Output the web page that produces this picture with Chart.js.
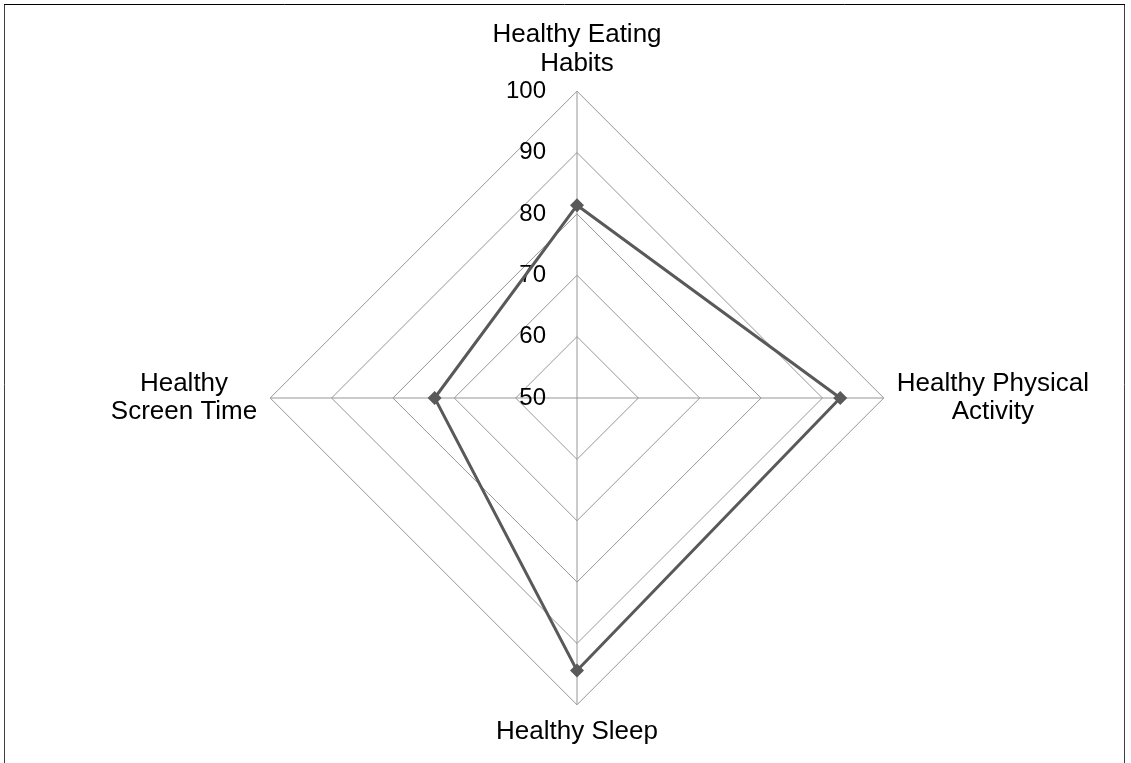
<!DOCTYPE html>
<html>
<head>
<meta charset="utf-8">
<script src="https://cdn.jsdelivr.net/npm/chart.js@4/dist/chart.umd.min.js"></script>
<style>
  html, body { margin: 0; padding: 0; background: #fff; }
  #wrap { width: 1131px; height: 763px; position: relative; }
</style>
</head>
<body>
<div id="wrap"><canvas id="c"></canvas></div>
<script>
const categories = [["Healthy Eating", "Habits"], ["Healthy Physical", "Activity"], "Healthy Sleep", ["Healthy", "Screen Time"]];
const seriesValues = [81.4, 92.9, 94.4, 73.2];
const tickValues = [50, 60, 70, 80, 90, 100];

const FONT = "'Liberation Sans', Arial, sans-serif";
const LABEL_SIZE = 26;
const LABEL_LH = 1.1;

const frame = {
  id: 'frame',
  afterDraw(chart) {
    const ctx = chart.ctx;
    ctx.save();
    ctx.lineWidth = 1;
    ctx.strokeStyle = '#404040';
    ctx.beginPath();
    ctx.moveTo(4.5, 4.5); ctx.lineTo(4.5, 800);
    ctx.moveTo(1124.5, 4.5); ctx.lineTo(1124.5, 800);
    ctx.stroke();
    ctx.strokeStyle = '#000';
    ctx.beginPath();
    ctx.moveTo(4, 4.5); ctx.lineTo(1125, 4.5);
    ctx.stroke();
    ctx.restore();
  }
};

const textLayer = {
  id: 'textLayer',
  beforeDatasetsDraw(chart) {
    const s = chart.scales.r;
    const ctx = chart.ctx;
    ctx.save();
    // tick labels
    ctx.font = '24px ' + FONT;
    ctx.fillStyle = '#000';
    ctx.textAlign = 'right';
    ctx.textBaseline = 'middle';
    tickValues.forEach(v => {
      const d = s.getDistanceFromCenterForValue(v);
      ctx.fillText(String(v), s.xCenter - 31, s.yCenter - d);
    });
    // point labels, each line centred in the label box laid out by the scale
    ctx.font = LABEL_SIZE + 'px ' + FONT;
    ctx.textAlign = 'center';
    const lh = LABEL_SIZE * LABEL_LH;
    categories.forEach((lab, i) => {
      const p = s.getPointLabelPosition(i);
      const lines = Array.isArray(lab) ? lab : [lab];
      const cx = (p.left + p.right) / 2;
      lines.forEach((t, j) => {
        ctx.fillText(t, cx, p.top + lh / 2 + j * lh);
      });
    });
    ctx.restore();
  }
};

new Chart(document.getElementById('c'), {
  type: 'radar',
  data: {
    labels: categories,
    datasets: [{
      data: seriesValues,
      borderColor: '#595959',
      backgroundColor: '#595959',
      borderWidth: 3,
      fill: false,
      tension: 0,
      pointStyle: 'rectRot',
      pointRadius: 7,
      pointHoverRadius: 7,
      pointBackgroundColor: '#595959',
      pointBorderColor: '#595959',
      pointBorderWidth: 0
    }]
  },
  options: {
    responsive: true,
    maintainAspectRatio: false,
    animation: false,
    events: [],
    layout: { padding: { top: 7, bottom: 1, left: 69, right: 0 } },
    plugins: { legend: { display: false }, tooltip: { enabled: false } },
    scales: {
      r: {
        min: 50,
        max: 100,
        beginAtZero: false,
        ticks: { display: false, stepSize: 10 },
        grid: { color: '#969696', lineWidth: 1 },
        angleLines: { color: '#969696', lineWidth: 1 },
        pointLabels: {
          color: 'rgba(0,0,0,0)',
          padding: 13,
          font: { family: FONT, size: LABEL_SIZE, lineHeight: LABEL_LH }
        }
      }
    }
  },
  plugins: [textLayer, frame]
});
</script>
</body>
</html>
